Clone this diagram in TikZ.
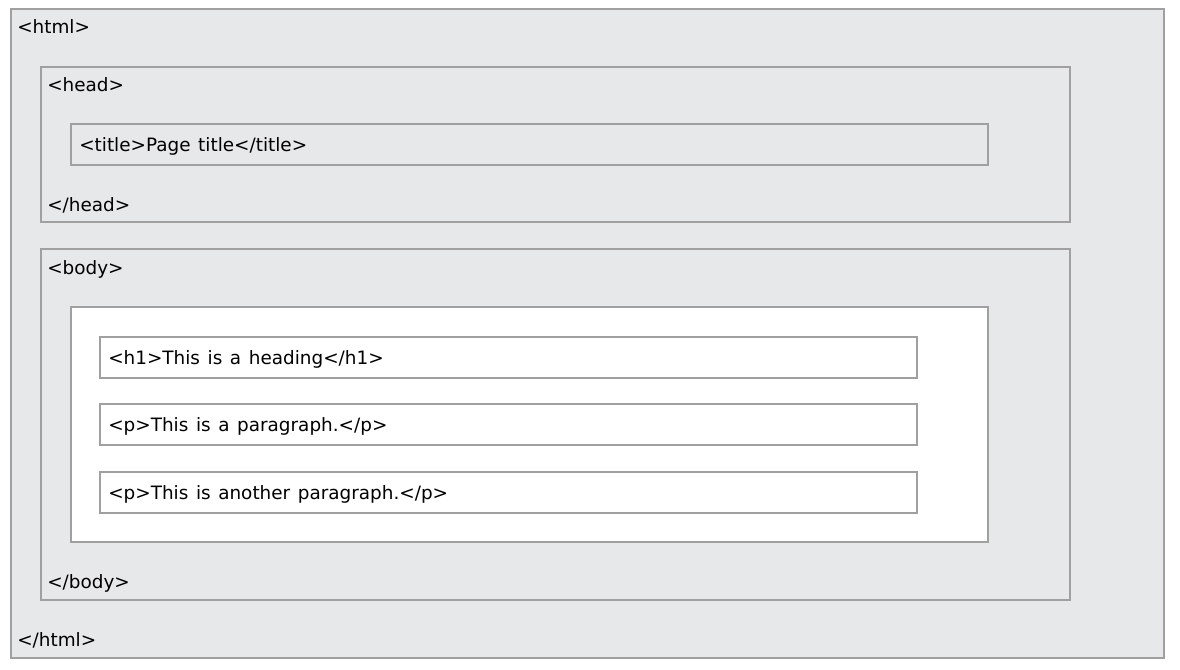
\documentclass[tikz,border=0pt]{standalone}
\usepackage{fontspec}
\setmainfont[WordSpace=1.3]{DejaVu Sans}
\definecolor{boxgray}{HTML}{E7E8EA}
\definecolor{edgegray}{HTML}{A0A0A0}
\begin{document}
\begin{tikzpicture}[x=0.75pt,y=-0.75pt,
  box/.style={draw=edgegray,line width=1.1pt,fill=boxgray,anchor=north west,inner sep=0pt,outer sep=0pt},
  wbox/.style={box,fill=white},
  lbl/.style={anchor=base west,inner sep=0pt,font=\fontsize{13.8pt}{16pt}\selectfont}]
\useasboundingbox[fill=white] (0,0) rectangle (1180,669);
\node[box,minimum width=864.75pt,minimum height=486.75pt] (html) at (11,9) {};
\node[box,minimum width=771.75pt,minimum height=116.25pt] (head) at (41,67) {};
\node[box,minimum width=687.75pt,minimum height=30.75pt] (title) at (71,124) {};
\node[box,minimum width=771.75pt,minimum height=263.25pt] (body) at (41,249) {};
\node[wbox,minimum width=687.75pt,minimum height=176.25pt] (inner) at (71,307) {};
\node[wbox,minimum width=612.75pt,minimum height=30.75pt] (h1) at (100,337) {};
\node[wbox,minimum width=612.75pt,minimum height=30.75pt] (p1) at (100,404) {};
\node[wbox,minimum width=612.75pt,minimum height=30.75pt] (p2) at (100,472) {};
\node[lbl] (thtml) at (17,33) {<html>};
\node[lbl] (thead) at (47,91) {<head>};
\node[lbl] (ttitle) at (79,151) {<title>Page title</title>};
\node[lbl] (tehead) at (47,211) {</head>};
\node[lbl] (tbody) at (47,274) {<body>};
\node[lbl] (th1) at (108,364) {<h1>This is a heading</h1>};
\node[lbl] (tp1) at (108,431) {<p>This is a paragraph.</p>};
\node[lbl] (tp2) at (108,499) {<p>This is another paragraph.</p>};
\node[lbl] (tebody) at (47,588) {</body>};
\node[lbl] (tehtml) at (17,646) {</html>};
\end{tikzpicture}
\end{document}
